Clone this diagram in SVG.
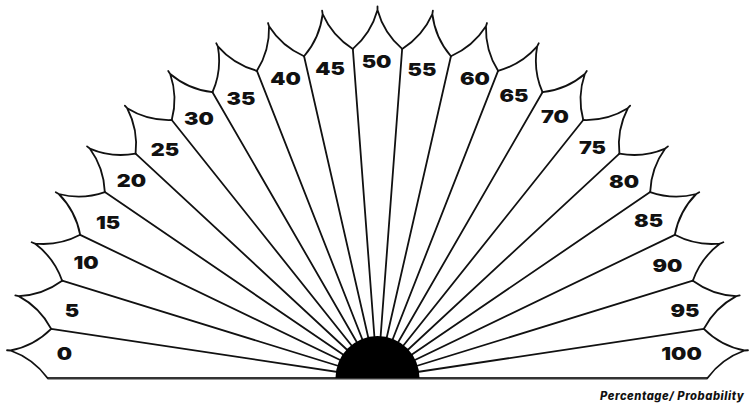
<svg xmlns="http://www.w3.org/2000/svg" xmlns:xlink="http://www.w3.org/1999/xlink" width="749" height="407" viewBox="0 0 749 407">
<style>
.ln{fill:none;stroke:#111;stroke-width:1.8;stroke-linecap:round;stroke-linejoin:round}
.lb{font-family:Inter,"Liberation Sans",sans-serif;font-weight:900;font-size:18px;fill:#111;text-anchor:middle}
.cap{font-family:Inter,"Liberation Sans",sans-serif;font-weight:800;font-style:italic;font-size:11.2px;letter-spacing:0.55px;fill:#111}
</style>
<defs>
<path id="crown" class="ln" d="M -24.66 -329.08 Q -6.42 -344.79 0 -368 Q 6.42 -344.79 24.66 -329.08 M 0 -368 L 0 -371.5"/>
<line id="spk" class="ln" x1="0" y1="0" x2="0" y2="-330"/>
</defs>
<rect width="749" height="407" fill="#fff"/>
<g id="connectors">
<g transform="translate(377.5 378)">
<use xlink:href="#spk" transform="rotate(-81.4286)"/>
<use xlink:href="#spk" transform="rotate(-72.8571)"/>
<use xlink:href="#spk" transform="rotate(-64.2857)"/>
<use xlink:href="#spk" transform="rotate(-55.7143)"/>
<use xlink:href="#spk" transform="rotate(-47.1429)"/>
<use xlink:href="#spk" transform="rotate(-38.5714)"/>
<use xlink:href="#spk" transform="rotate(-30)"/>
<use xlink:href="#spk" transform="rotate(-21.4286)"/>
<use xlink:href="#spk" transform="rotate(-12.8571)"/>
<use xlink:href="#spk" transform="rotate(-4.2857)"/>
<use xlink:href="#spk" transform="rotate(4.2857)"/>
<use xlink:href="#spk" transform="rotate(12.8571)"/>
<use xlink:href="#spk" transform="rotate(21.4286)"/>
<use xlink:href="#spk" transform="rotate(30)"/>
<use xlink:href="#spk" transform="rotate(38.5714)"/>
<use xlink:href="#spk" transform="rotate(47.1429)"/>
<use xlink:href="#spk" transform="rotate(55.7143)"/>
<use xlink:href="#spk" transform="rotate(64.2857)"/>
<use xlink:href="#spk" transform="rotate(72.8571)"/>
<use xlink:href="#spk" transform="rotate(81.4286)"/>
</g>
<line x1="47.5" y1="378.2" x2="707.5" y2="378.2" stroke="#333" stroke-width="2.6"/>
</g>
<g id="seg-0"><use xlink:href="#crown" transform="translate(377.5 378) rotate(-85.7143)"/><text class="lb" transform="translate(64.5 353) scale(1.2 1)" y="6.5">0</text></g>
<g id="seg-5"><use xlink:href="#crown" transform="translate(377.5 378) rotate(-77.1429)"/><text class="lb" transform="translate(72 310.5) scale(1.2 1)" y="6.5">5</text></g>
<g id="seg-10"><use xlink:href="#crown" transform="translate(377.5 378) rotate(-68.5714)"/><text class="lb" transform="translate(86 262.5) scale(1.2 1)" y="6.5">10</text></g>
<g id="seg-15"><use xlink:href="#crown" transform="translate(377.5 378) rotate(-60)"/><text class="lb" transform="translate(108 222) scale(1.2 1)" y="6.5">15</text></g>
<g id="seg-20"><use xlink:href="#crown" transform="translate(377.5 378) rotate(-51.4286)"/><text class="lb" transform="translate(131.5 180.5) scale(1.2 1)" y="6.5">20</text></g>
<g id="seg-25"><use xlink:href="#crown" transform="translate(377.5 378) rotate(-42.8571)"/><text class="lb" transform="translate(165 149) scale(1.2 1)" y="6.5">25</text></g>
<g id="seg-30"><use xlink:href="#crown" transform="translate(377.5 378) rotate(-34.2857)"/><text class="lb" transform="translate(199 118) scale(1.2 1)" y="6.5">30</text></g>
<g id="seg-35"><use xlink:href="#crown" transform="translate(377.5 378) rotate(-25.7143)"/><text class="lb" transform="translate(241 98) scale(1.2 1)" y="6.5">35</text></g>
<g id="seg-40"><use xlink:href="#crown" transform="translate(377.5 378) rotate(-17.1429)"/><text class="lb" transform="translate(285.5 78.5) scale(1.2 1)" y="6.5">40</text></g>
<g id="seg-45"><use xlink:href="#crown" transform="translate(377.5 378) rotate(-8.5714)"/><text class="lb" transform="translate(330 68.5) scale(1.2 1)" y="6.5">45</text></g>
<g id="seg-50"><use xlink:href="#crown" transform="translate(377.5 378)"/><text class="lb" transform="translate(376.5 61.5) scale(1.2 1)" y="6.5">50</text></g>
<g id="seg-55"><use xlink:href="#crown" transform="translate(377.5 378) rotate(8.5714)"/><text class="lb" transform="translate(422 69) scale(1.2 1)" y="6.5">55</text></g>
<g id="seg-60"><use xlink:href="#crown" transform="translate(377.5 378) rotate(17.1429)"/><text class="lb" transform="translate(475 78) scale(1.2 1)" y="6.5">60</text></g>
<g id="seg-65"><use xlink:href="#crown" transform="translate(377.5 378) rotate(25.7143)"/><text class="lb" transform="translate(514 95) scale(1.2 1)" y="6.5">65</text></g>
<g id="seg-70"><use xlink:href="#crown" transform="translate(377.5 378) rotate(34.2857)"/><text class="lb" transform="translate(555 116.5) scale(1.2 1)" y="6.5">70</text></g>
<g id="seg-75"><use xlink:href="#crown" transform="translate(377.5 378) rotate(42.8571)"/><text class="lb" transform="translate(592.5 147) scale(1.2 1)" y="6.5">75</text></g>
<g id="seg-80"><use xlink:href="#crown" transform="translate(377.5 378) rotate(51.4286)"/><text class="lb" transform="translate(624 181.5) scale(1.2 1)" y="6.5">80</text></g>
<g id="seg-85"><use xlink:href="#crown" transform="translate(377.5 378) rotate(60)"/><text class="lb" transform="translate(648.5 220) scale(1.2 1)" y="6.5">85</text></g>
<g id="seg-90"><use xlink:href="#crown" transform="translate(377.5 378) rotate(68.5714)"/><text class="lb" transform="translate(667.5 265) scale(1.2 1)" y="6.5">90</text></g>
<g id="seg-95"><use xlink:href="#crown" transform="translate(377.5 378) rotate(77.1429)"/><text class="lb" transform="translate(685 310) scale(1.2 1)" y="6.5">95</text></g>
<g id="seg-100"><use xlink:href="#crown" transform="translate(377.5 378) rotate(85.7143)"/><text class="lb" transform="translate(681.5 353) scale(1.2 1)" y="6.5">100</text></g>
<g id="hub"><path d="M 335.5 378 A 42 42 0 0 1 419.5 378 Z" fill="#000"/></g>
<g id="caption"><text class="cap" x="600" y="400">Percentage/ Probability</text></g>
</svg>
